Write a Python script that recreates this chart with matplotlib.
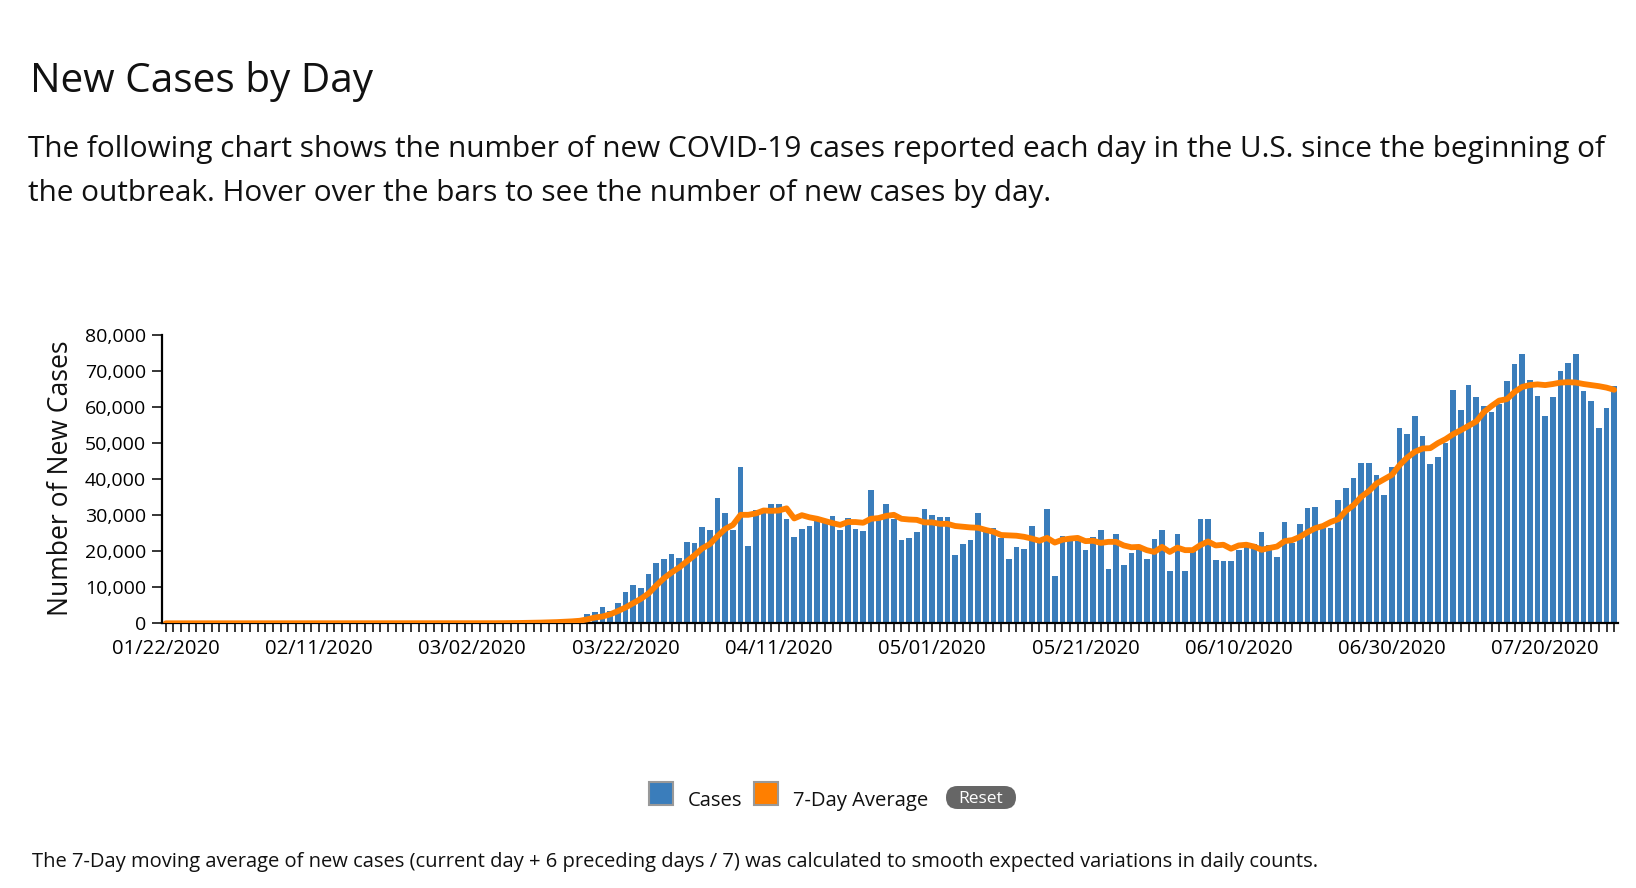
import numpy as np
import pandas as pd
import matplotlib
matplotlib.use("Agg")
import matplotlib.pyplot as plt
from matplotlib.patches import Rectangle, FancyBboxPatch
from matplotlib.ticker import FuncFormatter

plt.rcParams['font.family'] = ['Open Sans', 'DejaVu Sans']

# Dates shown on the x axis (one bar per day)
dates = pd.date_range("2020-01-22", periods=190, freq="D")
date_labels = [d.strftime("%m/%d/%Y") for d in dates]

# New cases per day
cases = [0] * 40 + [
    20, 30, 50, 60, 80, 100, 150, 200, 250, 300,
    350, 450, 550, 650, 800,
    2600, 3100, 4600, 3400, 5600, 8700, 10600, 9900, 13700, 16700,
    17800, 19200, 18100, 22600, 22300, 26700, 25900, 34800, 30600, 25900,
    43400, 21500, 31400, 31700, 33100, 33100, 28900, 24000, 26200, 27000,
    28400, 28100, 29800, 25900, 29200, 26200, 25600, 37000, 28600, 33100,
    28900, 23100, 23700, 25300, 31700, 30100, 29500, 29500, 19000, 22000,
    23100, 30600, 25300, 26500, 23700, 17900, 21200, 20600, 27000, 23100,
    31700, 13100, 24200, 23100, 22800, 20300, 24000, 25900, 15100, 24800,
    16200, 19500, 20600, 17900, 23400, 25900, 14500, 24800, 14500, 20300,
    28900, 28900, 17600, 17300, 17300, 20300, 21200, 22000, 25300, 21700,
    18400, 28100, 22400, 27600, 32000, 32300, 26500, 26500, 34200, 37500,
    40300, 44500, 44500, 41200, 35600, 43400, 54200, 52500, 57500, 52000,
    44200, 46200, 50000, 64700, 59200, 66100, 62800, 60300, 58600, 60900,
    67200, 72000, 74700, 67500, 63100, 57500, 62800, 70000, 72200, 74700,
    64500, 61700, 54200, 59700, 65900,
]

# 7-day average line
avg7 = [0] * 40 + [
    10, 15, 20, 30, 40, 60, 80, 110, 150, 200,
    260, 330, 420, 540, 700,
    1100, 1600, 1900, 2500, 3400, 4400, 5600, 6800, 8300, 10500,
    12500, 14100, 15500, 17200, 18900, 20800, 22000, 24200, 26200, 27300,
    30100, 30100, 30500, 31300, 31200, 31300, 31900, 29100, 30000, 29400,
    29000, 28400, 27800, 27300, 28100, 28100, 27900, 29000, 29200, 29800,
    30100, 29000, 28800, 28700, 28000, 28000, 27600, 27600, 27000, 26800,
    26600, 26500, 25900, 25400, 24500, 24400, 24300, 24000, 23500, 22900,
    23700, 22400, 23200, 23500, 23700, 22800, 22900, 22300, 22600, 22600,
    21600, 21100, 21200, 20300, 19800, 21200, 19800, 21000, 20300, 20300,
    21700, 22700, 21600, 21800, 20700, 21600, 21800, 21300, 20400, 20900,
    21300, 22800, 23100, 24000, 25300, 26400, 27000, 28100, 28900, 31200,
    32800, 35100, 36700, 38800, 40000, 41200, 43900, 46000, 47600, 48500,
    48600, 50000, 51100, 52500, 53600, 54800, 56000, 58600, 60300, 61800,
    62200, 64200, 65600, 66100, 66300, 66100, 66400, 66800, 66900, 66800,
    66400, 66100, 65800, 65400, 64800,
]

W, H = 1636, 888
fig = plt.figure(figsize=(W / 100, H / 100), dpi=100)

def fx(px):
    return px / W

def fy(py):
    return 1 - py / H

# Heading texts
fig.text(fx(30), fy(92), "New Cases by Day", fontsize=29.2, color="#111111")
fig.text(fx(28), fy(157), "The following chart shows the number of new COVID-19 cases reported each day in the U.S. since the beginning of",
         fontsize=21.4, color="#111111")
fig.text(fx(28), fy(201), "the outbreak. Hover over the bars to see the number of new cases by day.",
         fontsize=21.4, color="#111111")

# Plot area
ax = fig.add_axes([fx(162), fy(623.3), fx(1618) - fx(162), fy(335) - fy(623.3)])
x = np.arange(len(cases))
ax.bar(x, cases, width=0.74, color="#3a7dbb", zorder=2)
ax.plot(x, avg7, color="#ff7f00", linewidth=4.2, solid_capstyle="round", zorder=3)

ax.set_xlim(-0.5, len(cases) - 0.5)
ax.set_ylim(0, 80000)
ax.set_yticks(np.arange(0, 80001, 10000))
ax.yaxis.set_major_formatter(FuncFormatter(lambda v, p: f"{int(v):,}"))
ax.set_xticks(x)
ax.set_xticklabels([lab if i % 20 == 0 else "" for i, lab in enumerate(date_labels)])

for s in ["top", "right"]:
    ax.spines[s].set_visible(False)
for s in ["left", "bottom"]:
    ax.spines[s].set_linewidth(1.6)
    ax.spines[s].set_color("black")

ax.tick_params(axis="x", length=6.5, width=1.1, pad=5, labelsize=14.6, colors="black")
ax.tick_params(axis="y", length=7, width=1.1, pad=4.5, labelsize=14, colors="black")
ax.set_ylabel("Number of New Cases", fontsize=19.1, color="#111111")
ax.yaxis.set_label_coords((75 - 162) / (1618 - 162), 0.505)

# Legend
fig.add_artist(Rectangle((fx(649), fy(805)), fx(24), 23 / H, transform=fig.transFigure,
                         facecolor="#3a7dbb", edgecolor="#999999", linewidth=1.5))
fig.text(fx(688), fy(806), "Cases", fontsize=14.6, color="#111111")
fig.add_artist(Rectangle((fx(754), fy(805)), fx(24), 23 / H, transform=fig.transFigure,
                         facecolor="#ff7f00", edgecolor="#999999", linewidth=1.5))
fig.text(fx(793), fy(806), "7-Day Average", fontsize=14.6, color="#111111")
fig.add_artist(FancyBboxPatch((fx(946), fy(809)), fx(70), 23 / H,
                              boxstyle="round,pad=0,rounding_size=0.007",
                              mutation_aspect=W / H,
                              transform=fig.transFigure, facecolor="#666666", edgecolor="none"))
fig.text(fx(981), fy(799), "Reset", fontsize=12.5, color="white", ha="center", va="center")

# Footnote
fig.text(fx(32), fy(867), "The 7-Day moving average of new cases (current day + 6 preceding days / 7) was calculated to smooth expected variations in daily counts.",
         fontsize=14.5, color="#111111")

fig.savefig("out.png", dpi=100)
